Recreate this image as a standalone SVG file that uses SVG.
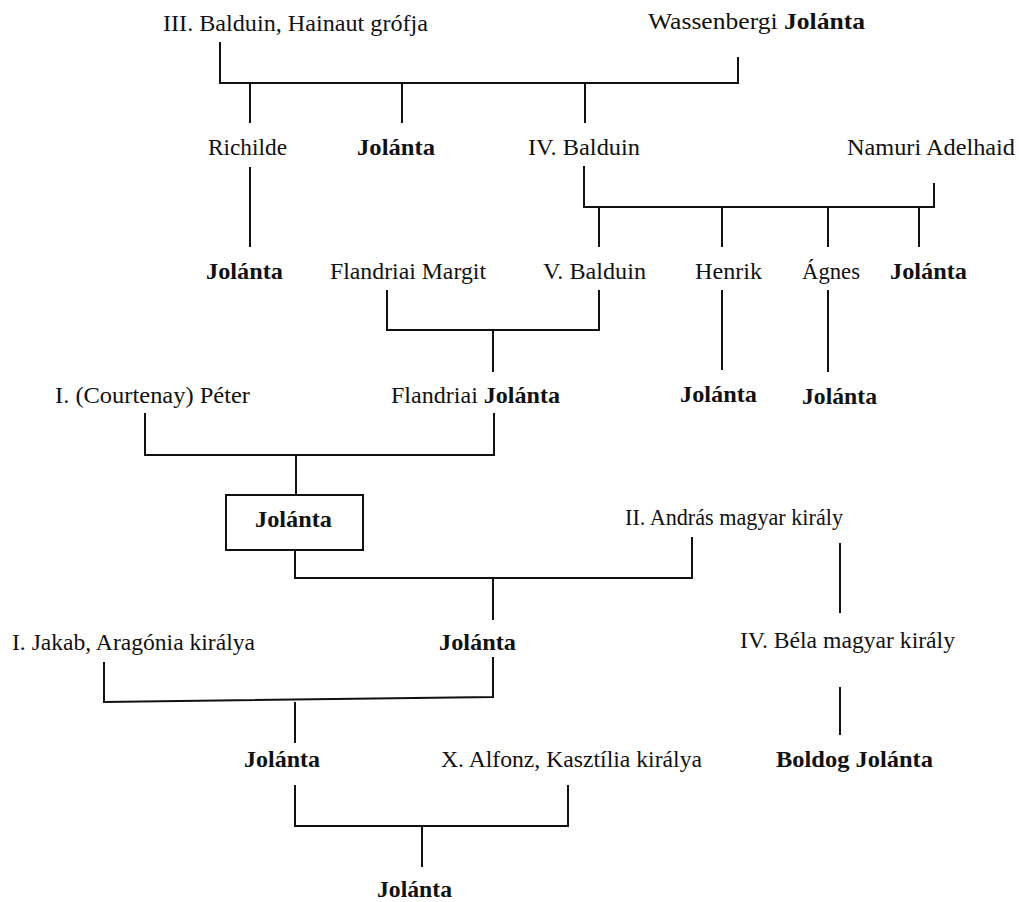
<svg xmlns="http://www.w3.org/2000/svg" width="1019" height="902" viewBox="0 0 1019 902">
<style>
text{font-family:"Liberation Serif","Times New Roman",serif;font-size:23px;fill:#111}
.b{font-weight:bold}
#connectors line,#connectors polyline{stroke:#111;stroke-width:2;fill:none}
.box{fill:#fff;stroke:#111;stroke-width:2}
</style>
<rect width="1019" height="902" fill="#fff"/>
<g id="connectors">
<polyline points="220,42 220,83 738,83 738,57"/>
<line x1="250" y1="83" x2="250" y2="123"/>
<line x1="402" y1="83" x2="402" y2="123"/>
<line x1="585" y1="83" x2="585" y2="123"/>
<line x1="250" y1="167" x2="250" y2="247"/>
<polyline points="584,166 584,207 934,207 934,183"/>
<line x1="599" y1="207" x2="599" y2="247"/>
<line x1="722" y1="207" x2="722" y2="247"/>
<line x1="828" y1="207" x2="828" y2="247"/>
<line x1="919" y1="207" x2="919" y2="247"/>
<polyline points="387,290 387,330 599,330 599,290"/>
<line x1="493" y1="330" x2="493" y2="372"/>
<line x1="722" y1="290" x2="722" y2="370"/>
<line x1="828" y1="290" x2="828" y2="372"/>
<polyline points="145,413 145,455 494,455 494,413"/>
<line x1="296" y1="455" x2="296" y2="495"/>
<polyline points="295,550 295,578 692,578 692,537"/>
<line x1="493" y1="578" x2="493" y2="620"/>
<line x1="840" y1="543" x2="840" y2="613"/>
<polyline points="104,662 104,702 493,697 493,657"/>
<line x1="295" y1="702" x2="295" y2="743"/>
<line x1="840" y1="687" x2="840" y2="735"/>
<polyline points="295,785 295,826 568,826 568,785"/>
<line x1="422" y1="826" x2="422" y2="867"/>
</g>
<g id="n-balduin3"><text x="163" y="31" textLength="265" lengthAdjust="spacingAndGlyphs">III. Balduin, Hainaut grófja</text></g>
<g id="n-wassenbergi"><text x="648" y="29" textLength="217" lengthAdjust="spacingAndGlyphs">Wassenbergi <tspan class="b">Jolánta</tspan></text></g>
<g id="n-richilde"><text x="208" y="155" textLength="79" lengthAdjust="spacingAndGlyphs">Richilde</text></g>
<g id="n-jolanta1"><text class="b" x="357" y="155" textLength="78" lengthAdjust="spacingAndGlyphs">Jolánta</text></g>
<g id="n-balduin4"><text x="528" y="155" textLength="112" lengthAdjust="spacingAndGlyphs">IV. Balduin</text></g>
<g id="n-adelhaid"><text x="847" y="155" textLength="168" lengthAdjust="spacingAndGlyphs">Namuri Adelhaid</text></g>
<g id="n-jolanta2"><text class="b" x="206" y="279" textLength="77" lengthAdjust="spacingAndGlyphs">Jolánta</text></g>
<g id="n-margit"><text x="330" y="279" textLength="156" lengthAdjust="spacingAndGlyphs">Flandriai Margit</text></g>
<g id="n-balduin5"><text x="543" y="279" textLength="103" lengthAdjust="spacingAndGlyphs">V. Balduin</text></g>
<g id="n-henrik"><text x="695" y="279" textLength="67" lengthAdjust="spacingAndGlyphs">Henrik</text></g>
<g id="n-agnes"><text x="802" y="279" textLength="58" lengthAdjust="spacingAndGlyphs">Ágnes</text></g>
<g id="n-jolanta3"><text class="b" x="890" y="279" textLength="77" lengthAdjust="spacingAndGlyphs">Jolánta</text></g>
<g id="n-peter"><text x="55" y="403" textLength="195" lengthAdjust="spacingAndGlyphs">I. (Courtenay) Péter</text></g>
<g id="n-flandriai-jolanta"><text x="391" y="403" textLength="169" lengthAdjust="spacingAndGlyphs">Flandriai <tspan class="b">Jolánta</tspan></text></g>
<g id="n-jolanta4"><text class="b" x="680" y="402" textLength="77" lengthAdjust="spacingAndGlyphs">Jolánta</text></g>
<g id="n-jolanta5"><text class="b" x="802" y="404" textLength="75" lengthAdjust="spacingAndGlyphs">Jolánta</text></g>
<g id="n-jolanta-box"><rect class="box" x="226" y="495" width="137" height="55"/><text class="b" x="255" y="527" textLength="77" lengthAdjust="spacingAndGlyphs">Jolánta</text></g>
<g id="n-andras"><text x="625" y="525" textLength="218" lengthAdjust="spacingAndGlyphs">II. András magyar király</text></g>
<g id="n-jakab"><text x="12" y="650" textLength="243" lengthAdjust="spacingAndGlyphs">I. Jakab, Aragónia királya</text></g>
<g id="n-jolanta6"><text class="b" x="439" y="650" textLength="77" lengthAdjust="spacingAndGlyphs">Jolánta</text></g>
<g id="n-bela"><text x="740" y="648" textLength="215" lengthAdjust="spacingAndGlyphs">IV. Béla magyar király</text></g>
<g id="n-jolanta7"><text class="b" x="244" y="767" textLength="76" lengthAdjust="spacingAndGlyphs">Jolánta</text></g>
<g id="n-alfonz"><text x="441" y="767" textLength="261" lengthAdjust="spacingAndGlyphs">X. Alfonz, Kasztília királya</text></g>
<g id="n-boldog"><text class="b" x="776" y="767" textLength="157" lengthAdjust="spacingAndGlyphs">Boldog Jolánta</text></g>
<g id="n-jolanta8"><text class="b" x="377" y="897" textLength="75" lengthAdjust="spacingAndGlyphs">Jolánta</text></g>
</svg>
